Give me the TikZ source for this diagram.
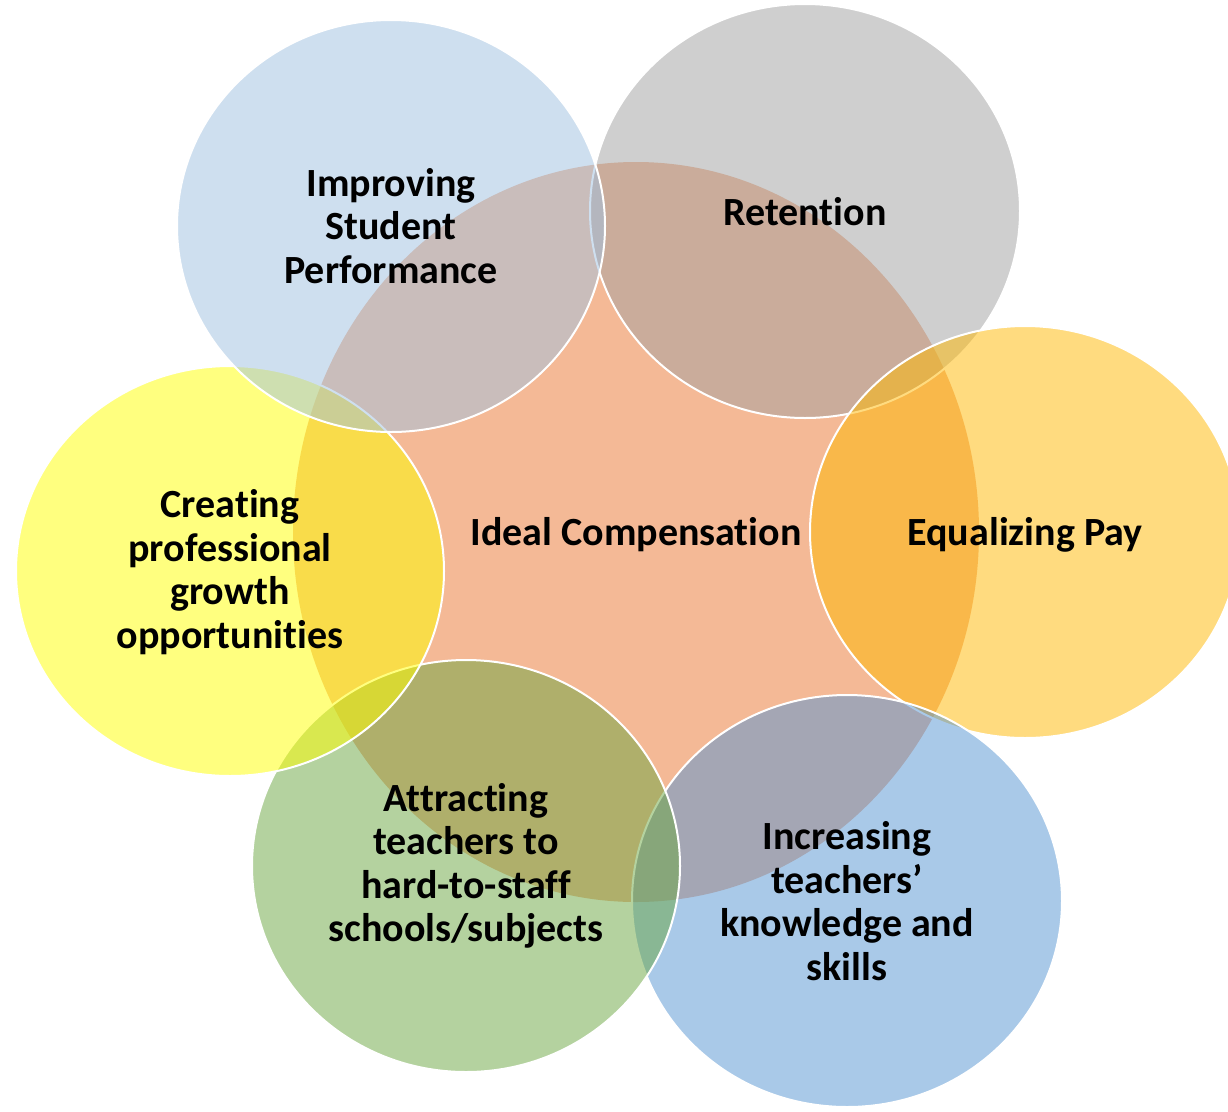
\documentclass[tikz,border=0pt]{standalone}
\usepackage{fontspec}
\setmainfont[Ligatures=NoCommon,RawFeature={-liga;-clig}]{Carlito}
\usetikzlibrary{shapes.geometric}
\definecolor{ccenter}{HTML}{F4B996}
\definecolor{cimp}{HTML}{9FC1E1}
\definecolor{cret}{HTML}{A1A1A1}
\definecolor{cequ}{HTML}{FFB800}
\definecolor{cinc}{HTML}{5595D3}
\definecolor{catt}{HTML}{6BA741}
\definecolor{ccre}{HTML}{FFFF00}
\tikzset{
  blob/.style={ellipse, inner sep=0pt, outer sep=0pt, draw=white, line width=2pt, fill opacity=0.5},
  hub/.style={ellipse, inner sep=0pt, outer sep=0pt, fill=ccenter},
  lbl/.style={align=center, inner sep=0pt, text=black, font=\fontsize{40}{43.5}\selectfont\bfseries}
}
\begin{document}
\begin{tikzpicture}[x=1pt,y=-1pt]
\useasboundingbox (0,0) rectangle (1228,1111);
\clip (0,0) rectangle (1228,1111);
\fill[white] (0,0) rectangle (1228,1111);
\node[hub, minimum width=686pt, minimum height=740pt] (cen) at (636,532) {};
\node[blob, fill=cret, minimum width=430pt, minimum height=414pt] (ret) at (805,211) {};
\node[blob, fill=cequ, minimum width=430pt, minimum height=412pt] (equ) at (1025,532) {};
\node[blob, fill=cinc, minimum width=430pt, minimum height=412pt] (inc) at (847,901) {};
\node[blob, fill=catt, minimum width=428pt, minimum height=412pt] (att) at (466,866) {};
\node[blob, fill=ccre, minimum width=428pt, minimum height=410pt] (cre) at (230,571) {};
\node[blob, fill=cimp, minimum width=428pt, minimum height=412pt] (imp) at (391,226) {};
\node[lbl] (tcen) at ([yshift=-3pt]cen.center) {Ideal Compensation};
\node[lbl] (tret) at ([yshift=-1pt]ret.center) {Retention};
\node[lbl] (tequ) at ([yshift=-3pt]equ.center) {Equalizing Pay};
\node[lbl] (tinc) at (inc.center) {Increasing\\teachers’\\knowledge and\\skills};
\node[lbl] (tatt) at (att.center) {Attracting\\teachers to\\hard-to-staff\\schools/subjects};
\node[lbl] (tcre) at ([yshift=-1pt]cre.center) {Creating\\professional\\growth\\opportunities};
\node[lbl] (timp) at (imp.center) {Improving\\Student\\Performance};
\end{tikzpicture}
\end{document}
